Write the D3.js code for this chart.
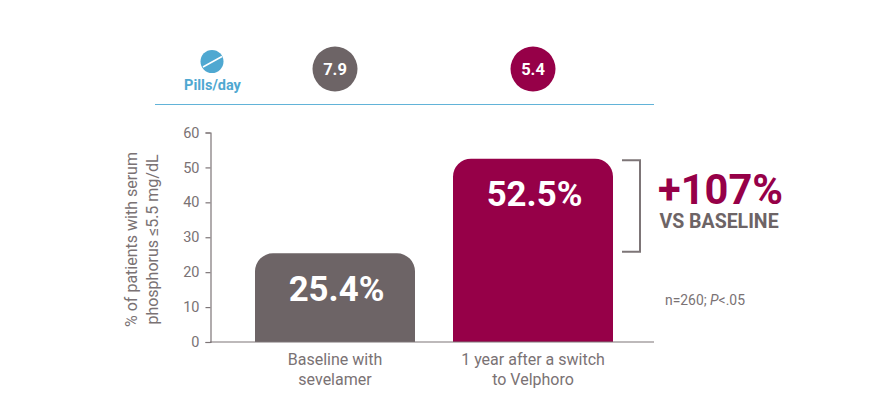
<!DOCTYPE html>
<html>
<head>
<meta charset="utf-8">
<script src="https://d3js.org/d3.v7.min.js"></script>
<style>
	html, body { margin: 0; padding: 0; background: #fff; }
	svg { display: block; }
	text { font-family: Roboto, sans-serif; }
	.axis text { font-size: 14.5px; fill: #7a7274; }
	.axis path, .axis line { stroke: #7d7577; stroke-width: 1.2px; }
</style>
</head>
<body>
<svg id="chart" width="880" height="396"></svg>
<script>
const categories = ["Baseline with sevelamer", "1 year after a switch to Velphoro"];
const categoryLines = [["Baseline with", "sevelamer"], ["1 year after a switch", "to Velphoro"]];
const percentValues = [25.4, 52.5];
const pillsPerDay = [7.9, 5.4];
const yTicks = [0, 10, 20, 30, 40, 50, 60];
const yTitleLines = ["% of patients with serum", "phosphorus \u22645.5 mg/dL"];

const GREY = "#6d6466";
const SOFT_GREY = "#7a7274";
const WINE = "#960048";
const BLUE = "#4fa8d1";

let svg = d3.select("#chart");

let x = d3.scaleBand()
	.domain(categories)
	.range([236, 632])
	.paddingInner(38 / 198)
	.paddingOuter(19 / 198);

let y = d3.scaleLinear()
	.domain([0, 60])
	.range([342, 132.5]);

let colour = d3.scaleOrdinal().domain(categories).range([GREY, WINE]);

// rounded top corners only
function barPath(d, i) {
	let r = 18;
	let x0 = x(categories[i]), x1 = x0 + x.bandwidth();
	let p = d3.path();
	p.moveTo(x0, y(0));
	p.lineTo(x0, y(d) + r);
	p.arcTo(x0, y(d), x0 + r, y(d), r);
	p.lineTo(x1 - r, y(d));
	p.arcTo(x1, y(d), x1, y(d) + r, r);
	p.lineTo(x1, y(0));
	p.closePath();
	return p.toString();
}

svg.selectAll(".bar")
	.data(percentValues)
	.enter()
	.append("path")
	.attr("class", "bar")
	.attr("d", barPath)
	.attr("fill", (d, i) => colour(categories[i]));

svg.selectAll(".bar-label")
	.data(percentValues)
	.enter()
	.append("text")
	.attr("class", "bar-label")
	.attr("x", (d, i) => x(categories[i]) + x.bandwidth() / 2 + 1.5)
	.attr("y", d => y(d) + 47.5)
	.attr("text-anchor", "middle")
	.attr("font-size", 34.8)
	.attr("font-weight", 700)
	.attr("fill", "#fff")
	.text(d => d + "%");

// y axis
let yAxis = d3.axisLeft(y).tickValues(yTicks).tickSize(5).tickPadding(6);
svg.append("g")
	.attr("class", "axis")
	.attr("transform", "translate(210.5,0)")
	.call(yAxis);

// baseline runs past the last bar, up to the end of the blue rule
svg.append("line")
	.attr("x1", 210).attr("x2", 654)
	.attr("y1", y(0)).attr("y2", y(0))
	.attr("stroke", "#7d7577")
	.attr("stroke-width", 1.2);

// y title
let yTitle = svg.append("text")
	.attr("transform", "translate(137,239.5) rotate(-90)")
	.attr("text-anchor", "middle")
	.attr("font-size", 16)
	.attr("fill", SOFT_GREY);
yTitleLines.forEach(function(t, i) {
	yTitle.append("tspan")
		.attr("x", 0)
		.attr("dy", i ? 21 : 0)
		.text(t);
});

// category labels
categories.forEach(function(c, i) {
	let label = svg.append("text")
		.attr("x", x(c) + x.bandwidth() / 2)
		.attr("y", 365)
		.attr("text-anchor", "middle")
		.attr("font-size", 16)
		.attr("fill", SOFT_GREY);
	categoryLines[i].forEach(function(t, j) {
		label.append("tspan")
			.attr("x", x(c) + x.bandwidth() / 2)
			.attr("dy", j ? 19.5 : 0)
			.text(t);
	});
});

// pills row
let pills = svg.selectAll(".pill")
	.data(pillsPerDay)
	.enter()
	.append("g")
	.attr("class", "pill")
	.attr("transform", (d, i) => "translate(" + (x(categories[i]) + x.bandwidth() / 2) + ",69)");
pills.append("circle")
	.attr("r", 22.5)
	.attr("fill", (d, i) => colour(categories[i]));
pills.append("text")
	.attr("y", 5.5)
	.attr("text-anchor", "middle")
	.attr("font-size", 16.5)
	.attr("font-weight", 700)
	.attr("fill", "#fff")
	.text(d => d);

// pill icon
svg.append("circle")
	.attr("cx", 212).attr("cy", 61.5).attr("r", 11.5)
	.attr("fill", BLUE);
svg.append("line")
	.attr("x1", 203).attr("y1", 67)
	.attr("x2", 222).attr("y2", 56.5)
	.attr("stroke", "#fff")
	.attr("stroke-width", 1.5);
svg.append("text")
	.attr("x", 212.5).attr("y", 90)
	.attr("text-anchor", "middle")
	.attr("font-size", 14.5)
	.attr("font-weight", 700)
	.attr("fill", BLUE)
	.text("Pills/day");

svg.append("line")
	.attr("x1", 155).attr("x2", 654)
	.attr("y1", 104.5).attr("y2", 104.5)
	.attr("stroke", "#62b3d8")
	.attr("stroke-width", 1.2);

// bracket from the first value to the second
svg.append("path")
	.attr("d", d3.line()([[622, y(percentValues[1]) + 1.5], [640, y(percentValues[1]) + 1.5], [640, y(percentValues[0]) - 1.5], [622, y(percentValues[0]) - 1.5]]))
	.attr("fill", "none")
	.attr("stroke", "#7d7577")
	.attr("stroke-width", 2);

svg.append("text")
	.attr("x", 658).attr("y", 204)
	.attr("font-size", 41.6)
	.attr("font-weight", 700)
	.attr("fill", WINE)
	.text("+107%");
svg.append("text")
	.attr("x", 659.5).attr("y", 228)
	.attr("font-size", 19.5)
	.attr("font-weight", 700)
	.attr("fill", GREY)
	.text("VS BASELINE");

let note = svg.append("text")
	.attr("x", 665).attr("y", 305)
	.attr("font-size", 13.9)
	.attr("fill", SOFT_GREY);
note.append("tspan").text("n=260; ");
note.append("tspan").attr("font-style", "italic").text("P");
note.append("tspan").text("<.05");
</script>
</body>
</html>
